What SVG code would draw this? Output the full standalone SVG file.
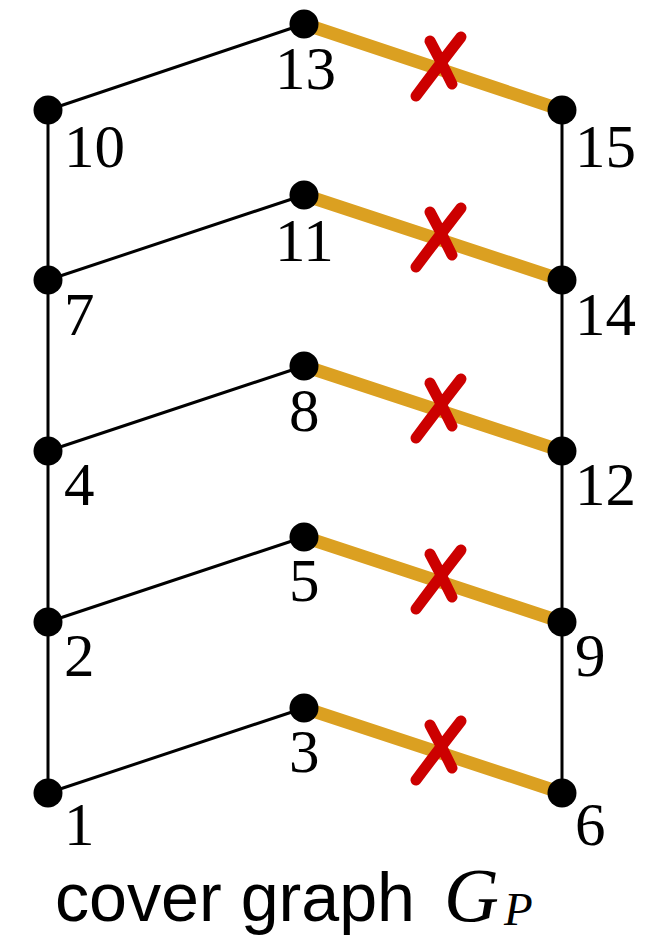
<svg xmlns="http://www.w3.org/2000/svg" width="661" height="936" viewBox="0 0 661 936">
<style>
.e{stroke:#000;stroke-width:3;fill:none}
.o{stroke:#DBA021;stroke-width:13;fill:none}
.x{stroke:#CC0000;stroke-width:11;stroke-linecap:round;fill:none}
.n{fill:#000}
.l{font-family:"Liberation Serif","DejaVu Serif",serif;font-size:61px;fill:#000}
.c{font-family:"Liberation Sans","DejaVu Sans",sans-serif;font-size:68px;fill:#000}
.m{font-family:"Liberation Serif","DejaVu Serif",serif;font-style:italic;fill:#000}
</style>
<defs>
<path id="cross" class="x" d="M416,96 Q440,64 461,37 M430,41 Q442,63 452,84"/>
</defs>
<g id="connectors">
<path class="e" d="M48,110 L48,793 M562,110 L562,793"/>
<path class="e" d="M48,110 L304,24 M48,280 L304,195 M48,451 L304,366 M48,622 L304,537 M48,793 L304,708"/>
<path class="o" d="M304,24 L562,110 M304,195 L562,280 M304,366 L562,451 M304,537 L562,622 M304,708 L562,793"/>
</g>
<g id="marks">
<use href="#cross"/>
<use href="#cross" y="171"/>
<use href="#cross" y="342"/>
<use href="#cross" y="513"/>
<use href="#cross" y="684"/>
</g>
<g id="n1"><circle class="n" cx="48" cy="793" r="14.5"/><text class="l" x="64" y="845">1</text></g>
<g id="n2"><circle class="n" cx="48" cy="622" r="14.5"/><text class="l" x="64" y="676">2</text></g>
<g id="n4"><circle class="n" cx="48" cy="451" r="14.5"/><text class="l" x="64" y="505">4</text></g>
<g id="n7"><circle class="n" cx="48" cy="280" r="14.5"/><text class="l" x="64" y="335">7</text></g>
<g id="n10"><circle class="n" cx="48" cy="110" r="14.5"/><text class="l" x="64" y="167">10</text></g>
<g id="n3"><circle class="n" cx="304" cy="708" r="14.5"/><text class="l" x="289" y="772">3</text></g>
<g id="n5"><circle class="n" cx="304" cy="537" r="14.5"/><text class="l" x="289" y="601">5</text></g>
<g id="n8"><circle class="n" cx="304" cy="366" r="14.5"/><text class="l" x="289" y="431">8</text></g>
<g id="n11"><circle class="n" cx="304" cy="195" r="14.5"/><text class="l" x="275" y="261">11</text></g>
<g id="n13"><circle class="n" cx="304" cy="24" r="14.5"/><text class="l" x="275" y="89">13</text></g>
<g id="n6"><circle class="n" cx="562" cy="793" r="14.5"/><text class="l" x="575" y="845">6</text></g>
<g id="n9"><circle class="n" cx="562" cy="622" r="14.5"/><text class="l" x="575" y="676">9</text></g>
<g id="n12"><circle class="n" cx="562" cy="451" r="14.5"/><text class="l" x="575" y="505">12</text></g>
<g id="n14"><circle class="n" cx="562" cy="280" r="14.5"/><text class="l" x="575" y="335">14</text></g>
<g id="n15"><circle class="n" cx="562" cy="110" r="14.5"/><text class="l" x="575" y="167">15</text></g>
<g id="caption">
<text class="c" x="55" y="921" textLength="360" lengthAdjust="spacingAndGlyphs">cover graph</text>
<text class="m" x="444" y="921" font-size="76">G</text>
<text class="m" x="504" y="925" font-size="47">P</text>
</g>
</svg>
